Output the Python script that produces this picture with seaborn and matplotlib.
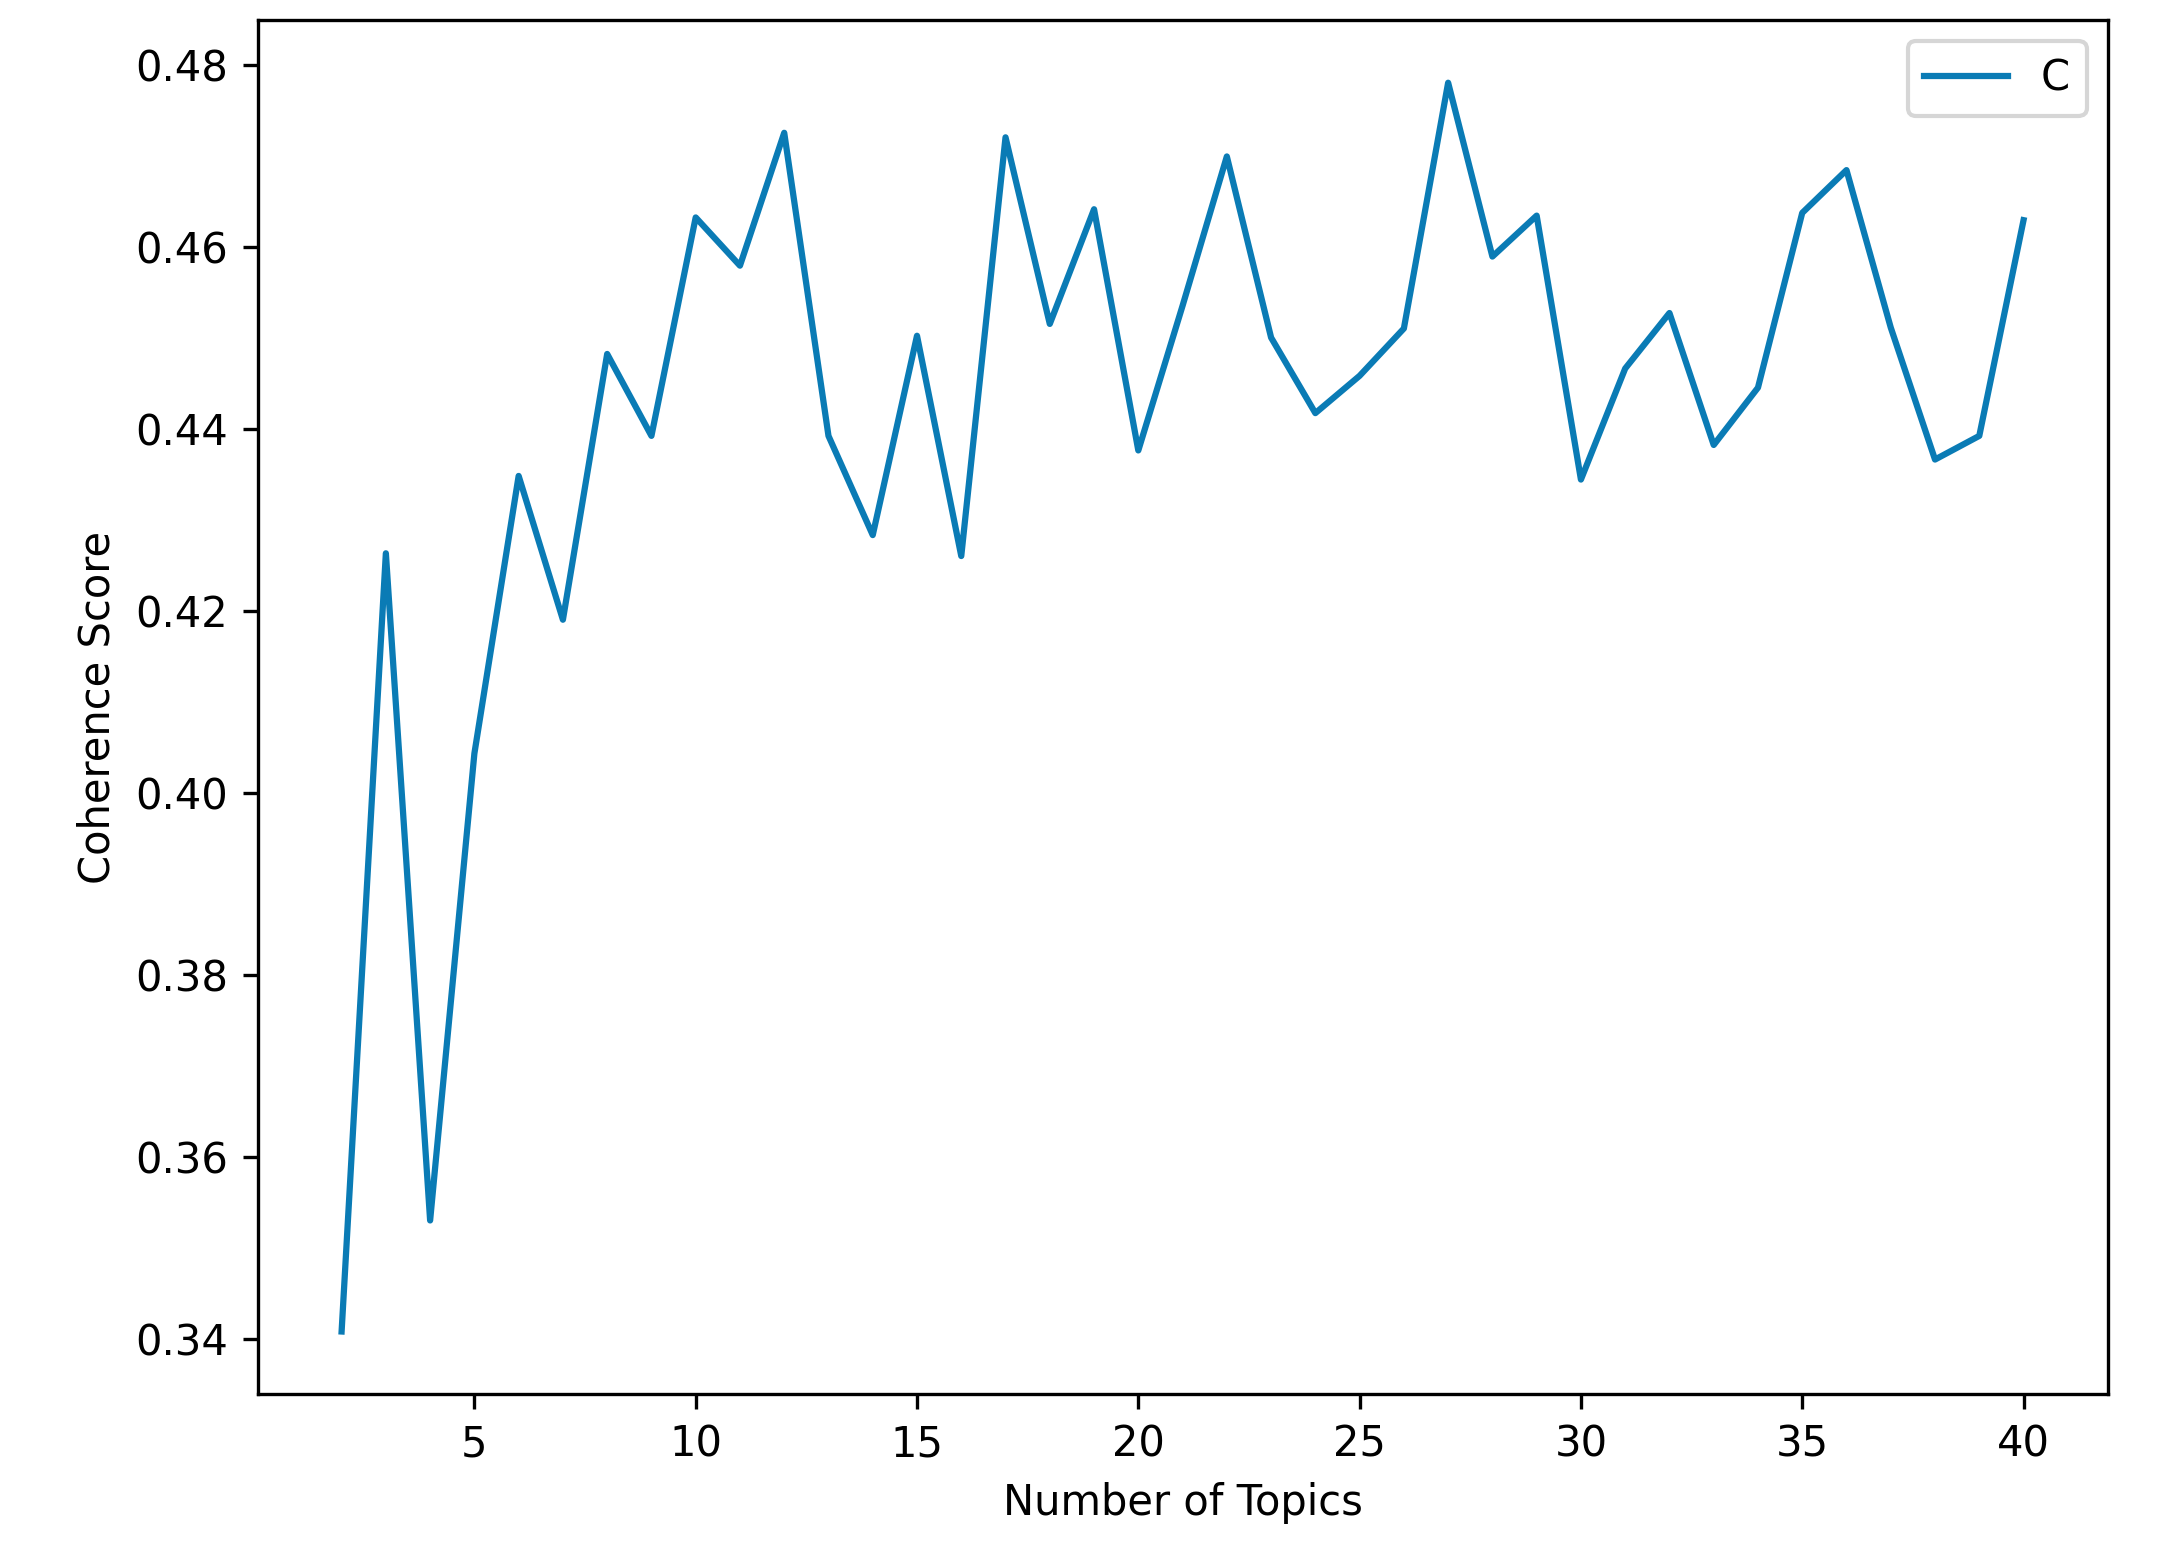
import numpy as np
import pandas as pd
import matplotlib
matplotlib.use("Agg")
import matplotlib.pyplot as plt
import seaborn as sns

# Coherence score per number of topics
num_topics = list(range(2, 41))
coherence = [0.3408, 0.4263, 0.3530, 0.4043, 0.4348, 0.4190, 0.4482, 0.4392, 0.4632,
             0.4579, 0.4725, 0.4392, 0.4283, 0.4502, 0.4260, 0.4720, 0.4515, 0.4641,
             0.4376, 0.4535, 0.4699, 0.4500, 0.4417, 0.4458, 0.4510, 0.4780, 0.4589,
             0.4634, 0.4344, 0.4466, 0.4527, 0.4382, 0.4445, 0.4637, 0.4684, 0.4511,
             0.4366, 0.4392, 0.4629]

df = pd.DataFrame({"Number of Topics": num_topics, "Coherence Score": coherence})

fig = plt.figure(figsize=(7.213, 5.227), dpi=300)
ax = fig.add_axes([0.119, 0.111, 0.855, 0.876])
sns.lineplot(data=df, x="Number of Topics", y="Coherence Score", color="#0a7bb5",
             linewidth=1.5, label="C", ax=ax)
ax.set_yticks(np.arange(0.34, 0.481, 0.02))
ax.set_xticks([5, 10, 15, 20, 25, 30, 35, 40])
ax.legend(loc="upper right")
fig.savefig("out.png", dpi=300)
